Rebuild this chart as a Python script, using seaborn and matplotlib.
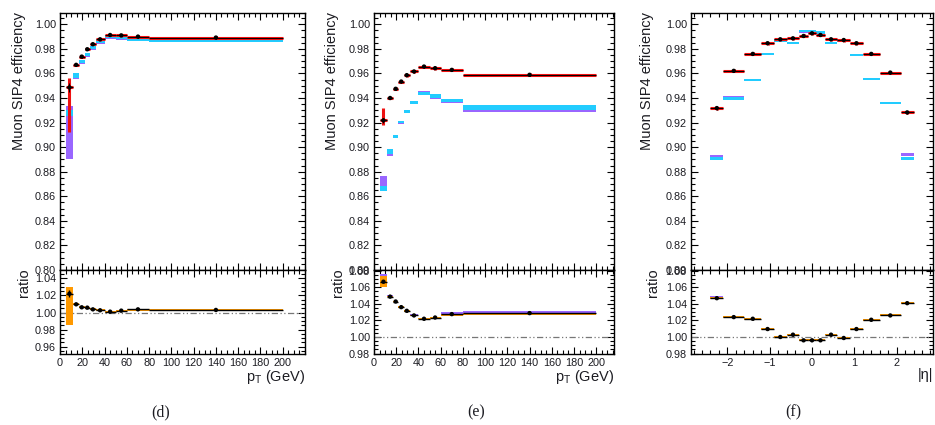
import numpy as np
import pandas as pd
import matplotlib
matplotlib.use("Agg")
import matplotlib.pyplot as plt
from matplotlib.ticker import MultipleLocator, FormatStrFormatter
import seaborn as sns

sns.set_theme(style="ticks")
plt.rcParams['font.family'] = ['Liberation Sans', 'DejaVu Sans']

# ---------------- data ----------------
pt_edges = [5, 12, 17, 22, 27, 32, 40, 50, 60, 80, 200]
eta_edges = [-2.4, -2.1, -1.6, -1.2, -0.9, -0.6, -0.3, -0.1, 0.1, 0.3, 0.6, 0.9, 1.2, 1.6, 2.1, 2.4]

# panel (d)
eff_d = [0.9486, 0.9670, 0.9737, 0.9797, 0.9838, 0.9878, 0.9913, 0.9910, 0.9900, 0.9892]
syst_lo_d = [0.0366, 0.0010, 0.0010, 0.0010, 0.0010, 0.0010, 0.0010, 0.0010, 0.0010, 0.0010]
syst_hi_d = [0.0074, 0.0010, 0.0010, 0.0010, 0.0010, 0.0010, 0.0010, 0.0010, 0.0010, 0.0010]
stat_d = [0.0040, 0.0008, 0.0008, 0.0008, 0.0008, 0.0008, 0.0008, 0.0008, 0.0008, 0.0008]
mcA_d = [0.9277, 0.9580, 0.9697, 0.9756, 0.9810, 0.9859, 0.9900, 0.9894, 0.9878, 0.9867]
mcA_err_d = [0.0027, 0.0020, 0.0012, 0.0012, 0.0012, 0.0012, 0.0012, 0.0012, 0.0012, 0.0012]
mcB_d = [0.9120, 0.9575, 0.9690, 0.9750, 0.9805, 0.9855, 0.9897, 0.9890, 0.9875, 0.9868]
mcB_err_d = [0.0215, 0.0022, 0.0014, 0.0014, 0.0014, 0.0014, 0.0014, 0.0014, 0.0014, 0.0014]
ratio_d = [1.0220, 1.0096, 1.0061, 1.0057, 1.0037, 1.0026, 1.0010, 1.0022, 1.0037, 1.0030]
rstat_d = [0.0040, 0.0008, 0.0008, 0.0008, 0.0008, 0.0008, 0.0008, 0.0008, 0.0008, 0.0008]
rA_d = [1.0075, 1.0096, 1.0061, 1.0057, 1.0037, 1.0026, 1.0010, 1.0022, 1.0030, 1.0030]
rA_err_d = [0.0220, 0.0012, 0.0012, 0.0012, 0.0012, 0.0012, 0.0012, 0.0012, 0.0015, 0.0015]
rB_d = [1.0078, 1.0100, 1.0063, 1.0058, 1.0038, 1.0027, 1.0011, 1.0022, 1.0031, 1.0031]
rB_err_d = [0.0225, 0.0014, 0.0012, 0.0012, 0.0012, 0.0012, 0.0012, 0.0012, 0.0015, 0.0015]

# panel (e)
eff_e = [0.9218, 0.9400, 0.9475, 0.9534, 0.9586, 0.9616, 0.9656, 0.9643, 0.9629, 0.9589]
syst_lo_e = [0.0040, 0.0012, 0.0012, 0.0012, 0.0012, 0.0012, 0.0012, 0.0012, 0.0012, 0.0012]
syst_hi_e = [0.0100, 0.0012, 0.0012, 0.0012, 0.0012, 0.0012, 0.0012, 0.0012, 0.0012, 0.0012]
stat_e = [0.0020, 0.0010, 0.0010, 0.0010, 0.0010, 0.0010, 0.0010, 0.0010, 0.0010, 0.0010]
mcA_e = [0.8664, 0.8966, 0.9088, 0.9204, 0.9291, 0.9364, 0.9437, 0.9419, 0.9378, 0.9324]
mcA_err_e = [0.0018, 0.0020, 0.0010, 0.0010, 0.0010, 0.0010, 0.0010, 0.0015, 0.0010, 0.0021]
mcB_e = [0.8712, 0.8955, 0.9086, 0.9202, 0.9290, 0.9362, 0.9445, 0.9405, 0.9372, 0.9312]
mcB_err_e = [0.0052, 0.0025, 0.0010, 0.0010, 0.0010, 0.0010, 0.0009, 0.0013, 0.0016, 0.0022]
ratio_e = [1.0667, 1.0487, 1.0428, 1.0360, 1.0316, 1.0260, 1.0220, 1.0235, 1.0276, 1.0288]
rstat_e = [0.0020, 0.0010, 0.0010, 0.0010, 0.0010, 0.0010, 0.0010, 0.0010, 0.0010, 0.0010]
rA_e = [1.0674, 1.0487, 1.0428, 1.0360, 1.0316, 1.0260, 1.0222, 1.0232, 1.0265, 1.0275]
rA_err_e = [0.0067, 0.0010, 0.0010, 0.0010, 0.0010, 0.0010, 0.0010, 0.0010, 0.0012, 0.0013]
rB_e = [1.0680, 1.0490, 1.0430, 1.0362, 1.0318, 1.0262, 1.0223, 1.0236, 1.0283, 1.0290]
rB_err_e = [0.0075, 0.0012, 0.0010, 0.0010, 0.0010, 0.0010, 0.0010, 0.0010, 0.0023, 0.0022]

# panel (f)
eff_f = [0.9318, 0.9621, 0.9759, 0.9846, 0.9878, 0.9886, 0.9905, 0.9927, 0.9913, 0.9878, 0.9872, 0.9846, 0.9759, 0.9607, 0.9283]
syst_f = [0.0012] * 15
stat_f = [0.0012, 0.0008, 0.0008, 0.0008, 0.0008, 0.0008, 0.0008, 0.0008, 0.0008, 0.0008, 0.0008, 0.0008, 0.0008, 0.0008, 0.0012]
mcA_f = [0.8910, 0.9395, 0.9548, 0.9757, 0.9870, 0.9850, 0.9945, 0.9945, 0.9935, 0.9850, 0.9870, 0.9748, 0.9555, 0.9358, 0.8910]
mcA_err_f = [0.0013, 0.0010, 0.0008, 0.0010, 0.0010, 0.0008, 0.0010, 0.0010, 0.0010, 0.0008, 0.0010, 0.0008, 0.0008, 0.0010, 0.0013]
mcB_f = [0.8922, 0.9405, 0.9548, 0.9757, 0.9870, 0.9850, 0.9940, 0.9940, 0.9932, 0.9850, 0.9870, 0.9748, 0.9555, 0.9358, 0.8938]
mcB_err_f = [0.0012, 0.0010, 0.0008, 0.0010, 0.0010, 0.0008, 0.0010, 0.0010, 0.0010, 0.0008, 0.0010, 0.0008, 0.0008, 0.0010, 0.0012]
ratio_f = [1.0468, 1.0240, 1.0220, 1.0096, 1.0000, 1.0028, 0.9960, 0.9960, 0.9960, 1.0028, 0.9988, 1.0096, 1.0208, 1.0260, 1.0408]
rstat_f = [0.0010] * 15
rA_f = [1.0472, 1.0245, 1.0220, 1.0096, 1.0000, 1.0030, 0.9960, 0.9960, 0.9960, 1.0030, 0.9992, 1.0096, 1.0208, 1.0262, 1.0410]
rA_err_f = [0.0013, 0.0010, 0.0010, 0.0010, 0.0010, 0.0010, 0.0010, 0.0010, 0.0010, 0.0010, 0.0010, 0.0010, 0.0010, 0.0010, 0.0012]
rB_f = [1.0480, 1.0246, 1.0221, 1.0097, 1.0001, 1.0031, 0.9961, 0.9961, 0.9961, 1.0031, 0.9993, 1.0097, 1.0209, 1.0263, 1.0412]
rB_err_f = [0.0015, 0.0010, 0.0010, 0.0010, 0.0010, 0.0010, 0.0010, 0.0010, 0.0010, 0.0010, 0.0010, 0.0010, 0.0010, 0.0010, 0.0012]

pt_ticks = [0, 20, 40, 60, 80, 100, 120, 140, 160, 180, 200]
eta_ticks = [-2, -1, 0, 1, 2]
captions = ["(d)", "(e)", "(f)"]

# ---------------- styling ----------------
RED = "#ee1111"
CYAN = "#22ccff"
PURPLE = "#9966ff"
ORANGE = "#ff9900"
TXT = "#1c1c22"

W, H = 935, 425
fig = plt.figure(figsize=(W / 100, H / 100), dpi=100)


def rect(l, r, t, b):
    return [l / W, 1 - b / H, (r - l) / W, (b - t) / H]


def band(ax, edges, cen, half, color):
    e = np.asarray(edges, float)
    c = np.asarray(cen)
    h = np.asarray(half)
    ax.bar(e[:-1], 2 * h, width=np.diff(e), bottom=c - h, align="edge",
           color=color, linewidth=0, zorder=2)


def points(ax, edges, vals, stat, lo=None, hi=None):
    e = np.asarray(edges, float)
    xc = 0.5 * (e[:-1] + e[1:])
    xw = 0.5 * np.diff(e)
    if lo is not None:
        ax.errorbar(xc, vals, xerr=xw, yerr=[lo, hi], fmt="none", ecolor=RED,
                    elinewidth=2.2, capsize=0, zorder=3)
        blw = 0.7
    else:
        blw = 1.0
    ax.errorbar(xc, vals, xerr=xw, yerr=stat, fmt="none", ecolor="black",
                elinewidth=blw, capsize=0, zorder=4)
    df = pd.DataFrame({"x": xc, "y": vals})
    sns.scatterplot(data=df, x="x", y="y", color="black", s=10, edgecolor="none",
                    ax=ax, zorder=5, legend=False)


def style(ax, xmaj, xmin, ymaj, ymin):
    ax.xaxis.set_major_locator(MultipleLocator(xmaj))
    ax.xaxis.set_minor_locator(MultipleLocator(xmin))
    ax.yaxis.set_major_locator(MultipleLocator(ymaj))
    ax.yaxis.set_minor_locator(MultipleLocator(ymin))
    ax.tick_params(which="both", direction="in", top=True, right=True,
                   colors="black", labelcolor=TXT, labelsize=7.8, width=0.8, pad=3)
    ax.tick_params(which="major", length=5)
    ax.tick_params(which="minor", length=2.8)
    for s in ax.spines.values():
        s.set_linewidth(1.0)
        s.set_color("black")
    ax.set_xlabel("")
    ax.set_ylabel("")


panels = [
    dict(l=60, r=305, xlim=(0, 220), edges=pt_edges, eff=eff_d, lo=syst_lo_d, hi=syst_hi_d, st=stat_d,
         A=mcA_d, Ae=mcA_err_d, B=mcB_d, Be=mcB_err_d, rat=ratio_d, rst=rstat_d,
         rA=rA_d, rAe=rA_err_d, rB=rB_d, rBe=rB_err_d, rylim=(0.9515, 1.0497),
         xt=(20, 5), xlab=r"p$_{\mathregular{T}}$ (GeV)", ylx=19, rlx=24, cap=161),
    dict(l=374, r=614, xlim=(0, 216), edges=pt_edges, eff=eff_e, lo=syst_lo_e, hi=syst_hi_e, st=stat_e,
         A=mcA_e, Ae=mcA_err_e, B=mcB_e, Be=mcB_err_e, rat=ratio_e, rst=rstat_e,
         rA=rA_e, rAe=rA_err_e, rB=rB_e, rBe=rB_err_e, rylim=(0.9795, 1.0808),
         xt=(20, 5), xlab=r"p$_{\mathregular{T}}$ (GeV)", ylx=332, rlx=338, cap=476),
    dict(l=691, r=933, xlim=(-2.86, 2.86), edges=eta_edges, eff=eff_f, lo=syst_f, hi=syst_f, st=stat_f,
         A=mcA_f, Ae=mcA_err_f, B=mcB_f, Be=mcB_err_f, rat=ratio_f, rst=rstat_f,
         rA=rA_f, rAe=rA_err_f, rB=rB_f, rBe=rB_err_f, rylim=(0.9795, 1.0808),
         xt=(1, 0.2), xlab="|η|", ylx=647, rlx=653, cap=793),
]

for i, p in enumerate(panels):
    ax = fig.add_axes(rect(p["l"], p["r"], 13, 270))
    rx = fig.add_axes(rect(p["l"], p["r"], 270, 354), sharex=ax)

    band(ax, p["edges"], p["B"], p["Be"], PURPLE)
    band(ax, p["edges"], p["A"], p["Ae"], CYAN)
    points(ax, p["edges"], p["eff"], p["st"], p["lo"], p["hi"])
    ax.set_xlim(*p["xlim"])
    ax.set_ylim(0.80, 1.0092)
    style(ax, p["xt"][0], p["xt"][1], 0.02, 0.005)
    ax.yaxis.set_major_formatter(FormatStrFormatter("%.2f"))
    ax.tick_params(labelbottom=False)

    rx.axhline(1.0, color="#777777", lw=0.9, ls=(0, (5, 2, 1, 2, 1, 2)), zorder=1)
    band(rx, p["edges"], p["rB"], p["rBe"], PURPLE)
    band(rx, p["edges"], p["rA"], p["rAe"], ORANGE)
    points(rx, p["edges"], p["rat"], p["rst"])
    rx.set_ylim(*p["rylim"])
    style(rx, p["xt"][0], p["xt"][1], 0.02, 0.005)
    rx.yaxis.set_major_formatter(FormatStrFormatter("%.2f"))
    if i < 2:
        rx.set_xticks(pt_ticks)
    else:
        rx.set_xticks(eta_ticks)
    rx.set_xlim(*p["xlim"])

    fig.text(p["ylx"] / W, 1 - 12 / H, "Muon SIP4 efficiency", rotation=90,
             ha="center", va="top", fontsize=10.5, color=TXT)
    fig.text(p["rlx"] / W, 1 - 268 / H, "ratio", rotation=90,
             ha="center", va="top", fontsize=10.5, color=TXT)
    fig.text(p["r"] / W, 1 - 368 / H, p["xlab"], ha="right", va="top",
             fontsize=10.5, color=TXT)
    fig.text(p["cap"] / W, 1 - 412 / H, captions[i], ha="center", va="center",
             fontsize=11.5, color=TXT, family=["Liberation Serif", "DejaVu Serif"])

fig.savefig("out.png", dpi=100)
